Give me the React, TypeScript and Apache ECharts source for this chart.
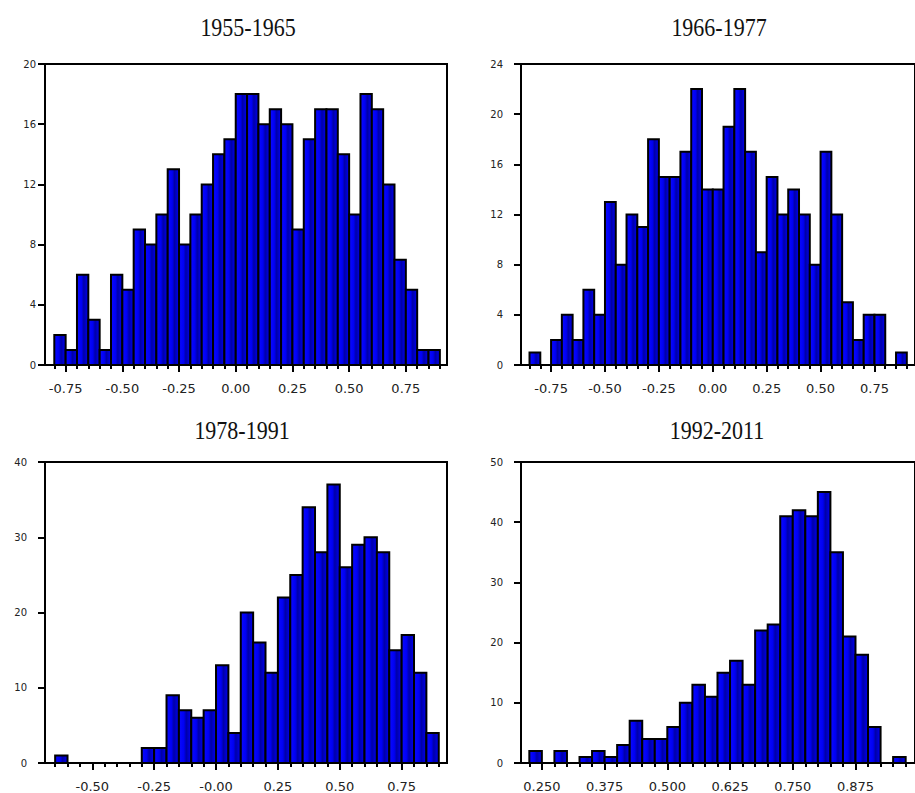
import React, { useEffect, useRef } from "react";
import * as echarts from "echarts";

const titles = ["1955-1965", "1966-1977", "1978-1991", "1992-2011"];

// Panel 1: 1955-1965
const p1Start = -0.8;
const p1Bin = 0.05;
const p1Counts = [2, 1, 6, 3, 1, 6, 5, 9, 8, 10, 13, 8, 10, 12, 14, 15, 18, 18, 16, 17, 16, 9, 15, 17, 17, 14, 10, 18, 17, 12, 7, 5, 1, 1];
const p1TickValues = [-0.75, -0.5, -0.25, 0, 0.25, 0.5, 0.75];
const p1TickLabels = ["-0.75", "-0.50", "-0.25", "0.00", "0.25", "0.50", "0.75"];
const p1YMax = 20;
const p1YStep = 4;

// Panel 2: 1966-1977
const p2Start = -0.85;
const p2Bin = 0.05;
const p2Counts = [1, 0, 2, 4, 2, 6, 4, 13, 8, 12, 11, 18, 15, 15, 17, 22, 14, 14, 19, 22, 17, 9, 15, 12, 14, 12, 8, 17, 12, 5, 2, 4, 4, 0, 1];
const p2TickValues = [-0.75, -0.5, -0.25, 0, 0.25, 0.5, 0.75];
const p2TickLabels = ["-0.75", "-0.50", "-0.25", "0.00", "0.25", "0.50", "0.75"];
const p2YMax = 24;
const p2YStep = 4;

// Panel 3: 1978-1991
const p3Start = -0.65;
const p3Bin = 0.05;
const p3Counts = [1, 0, 0, 0, 0, 0, 0, 2, 2, 9, 7, 6, 7, 13, 4, 20, 16, 12, 22, 25, 34, 28, 37, 26, 29, 30, 28, 15, 17, 12, 4];
const p3TickValues = [-0.5, -0.25, 0, 0.25, 0.5, 0.75];
const p3TickLabels = ["-0.50", "-0.25", "-0.00", "0.25", "0.50", "0.75"];
const p3YMax = 40;
const p3YStep = 10;

// Panel 4: 1992-2011
const p4Start = 0.225;
const p4Bin = 0.025;
const p4Counts = [2, 0, 2, 0, 1, 2, 1, 3, 7, 4, 4, 6, 10, 13, 11, 15, 17, 13, 22, 23, 41, 42, 41, 45, 35, 21, 18, 6, 0, 1];
const p4TickValues = [0.25, 0.375, 0.5, 0.625, 0.75, 0.875];
const p4TickLabels = ["0.250", "0.375", "0.500", "0.625", "0.750", "0.875"];
const p4YMax = 50;
const p4YStep = 10;

const r = (v: number) => Math.round(v * 100000) / 100000;

function binsToData(start: number, bin: number, counts: number[]) {
  return counts.map((c, i) => [r(start + i * bin), r(start + (i + 1) * bin), c]);
}
function minorTicks(start: number, bin: number, n: number) {
  const out: number[] = [];
  for (let i = 0; i <= n; i++) out.push(r(start + i * bin));
  return out;
}

const panels = [
  { start: p1Start, bin: p1Bin, counts: p1Counts, tv: p1TickValues, tl: p1TickLabels, ymax: p1YMax, ystep: p1YStep,
    left: 45, top: 64, xmin: -0.841, xmax: 0.9315, ymargin: 9, title: titles[0], tx: 248, ty: 27 },
  { start: p2Start, bin: p2Bin, counts: p2Counts, tv: p2TickValues, tl: p2TickLabels, ymax: p2YMax, ystep: p2YStep,
    left: 521, top: 64, xmin: -0.8895, xmax: 0.938, ymargin: 18, title: titles[1], tx: 719, ty: 27 },
  { start: p3Start, bin: p3Bin, counts: p3Counts, tv: p3TickValues, tl: p3TickLabels, ymax: p3YMax, ystep: p3YStep,
    left: 45, top: 462, xmin: -0.691, xmax: 0.9333, ymargin: 18, title: titles[2], tx: 242, ty: 430 },
  { start: p4Start, bin: p4Bin, counts: p4Counts, tv: p4TickValues, tl: p4TickLabels, ymax: p4YMax, ystep: p4YStep,
    left: 521, top: 462, xmin: 0.2084, xmax: 0.9936, ymargin: 18, title: titles[3], tx: 717, ty: 430 },
];

const GW = 402;
const GH = 301;

export default function App() {
  const ref = useRef<HTMLDivElement>(null);
  useEffect(() => {
    document.body.style.margin = "0";
    if (!ref.current) return;
    const chart = echarts.init(ref.current, null, { renderer: "svg" });

    const barFill = new echarts.graphic.LinearGradient(0, 0, 1, 0, [
      { offset: 0, color: "#0a0aff" },
      { offset: 0.4, color: "#0000f4" },
      { offset: 0.6, color: "#0000a8" },
      { offset: 0.85, color: "#0000d8" },
      { offset: 1, color: "#0000f4" },
    ]);

    const grid: any[] = [];
    const xAxis: any[] = [];
    const yAxis: any[] = [];
    const series: any[] = [];
    const graphic: any[] = [];
    const labelFont = "DejaVu Sans";
    const tickStyle = { color: "#000", width: 2 };

    panels.forEach((p, i) => {
      grid.push({
        left: p.left, top: p.top, width: GW, height: GH,
        show: true, borderColor: "#000", borderWidth: 2, backgroundColor: "transparent",
      });
      xAxis.push({
        type: "value", gridIndex: i, min: p.xmin, max: p.xmax, position: "bottom",
        axisLine: { show: false, onZero: false },
        splitLine: { show: false },
        axisTick: { show: true, customValues: p.tv, length: 7, lineStyle: tickStyle },
        axisLabel: {
          show: true, customValues: p.tv, margin: 17, fontSize: 13, fontFamily: labelFont, color: "#222",
          formatter: (v: number) => {
            const k = p.tv.findIndex((t) => Math.abs(t - v) < 1e-6);
            return k >= 0 ? p.tl[k] : "";
          },
        },
      });
      xAxis.push({
        type: "value", gridIndex: i, min: p.xmin, max: p.xmax, position: "bottom",
        axisLine: { show: false, onZero: false },
        splitLine: { show: false },
        axisTick: { show: true, customValues: minorTicks(p.start, p.bin, p.counts.length), length: 4, lineStyle: tickStyle },
        axisLabel: { show: false },
      });
      yAxis.push({
        type: "value", gridIndex: i, min: 0, max: p.ymax, interval: p.ystep, position: "left",
        axisLine: { show: false, onZero: false },
        splitLine: { show: false },
        axisTick: { show: true, length: 7, lineStyle: tickStyle },
        axisLabel: { margin: p.ymargin, fontSize: 10, fontFamily: labelFont, color: "#222" },
      });
      series.push({
        type: "custom",
        xAxisIndex: i * 2,
        yAxisIndex: i,
        clip: true,
        encode: { x: [0, 1], y: 2 },
        data: binsToData(p.start, p.bin, p.counts),
        renderItem: (params: any, api: any) => {
          const x0 = api.value(0);
          const x1 = api.value(1);
          const y = api.value(2);
          if (!y) return null;
          const a = api.coord([x0, y]);
          const b = api.coord([x1, 0]);
          return {
            type: "rect",
            shape: { x: a[0], y: a[1], width: b[0] - a[0], height: b[1] - a[1] },
            style: { fill: barFill, stroke: "#000", lineWidth: 2 },
          };
        },
      });
      graphic.push({
        type: "text",
        x: p.tx,
        y: p.ty,
        scaleY: 1.15,
        style: {
          text: p.title,
          font: '22px "Liberation Serif", "Times New Roman", serif',
          fill: "#111",
          align: "center",
          verticalAlign: "middle",
        },
      });
    });

    chart.setOption({
      animation: false,
      backgroundColor: "#fff",
      grid,
      xAxis,
      yAxis,
      series,
      graphic,
    });
    return () => chart.dispose();
  }, []);
  return <div ref={ref} style={{ width: 915, height: 793 }} />;
}
